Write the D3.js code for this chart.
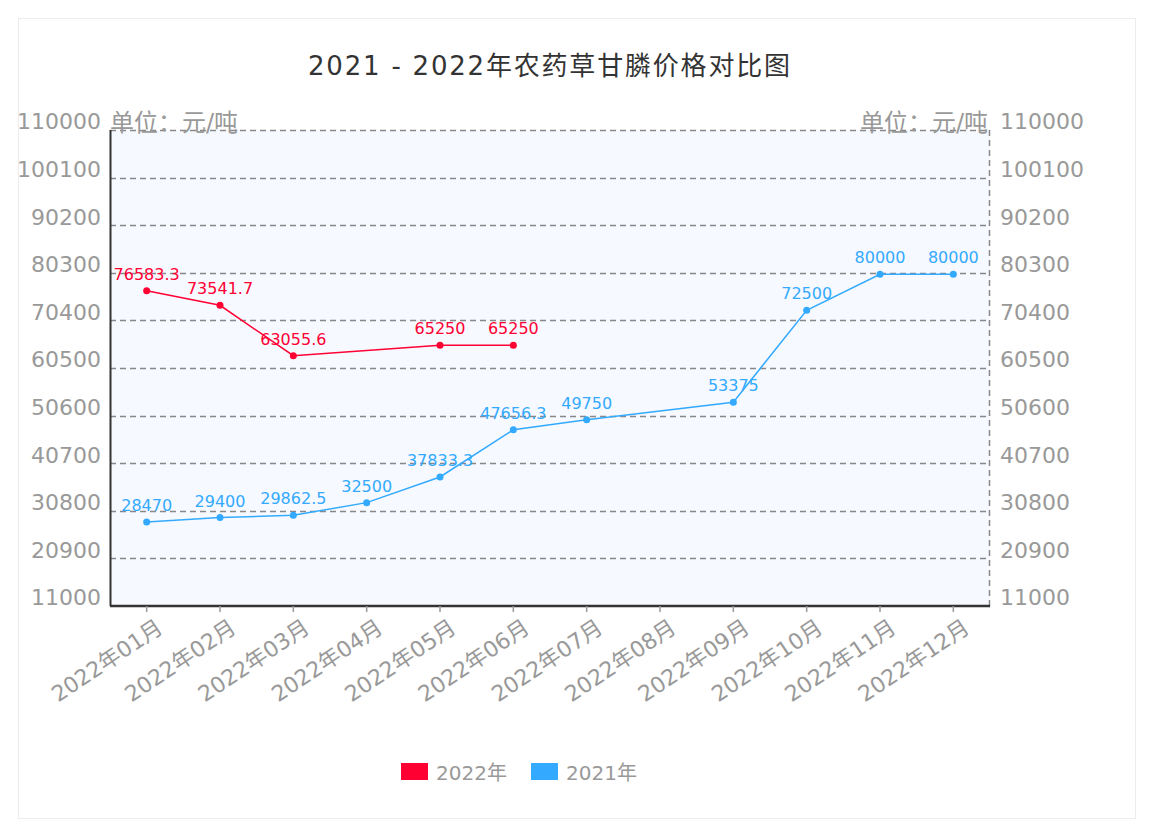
<!DOCTYPE html>
<html><head><meta charset="utf-8">
<script src="https://cdn.jsdelivr.net/npm/d3@7"></script>
<style>
body{margin:0;background:#fff;}
text{font-family:"DejaVu Sans","Noto Sans CJK SC",sans-serif;}
</style></head>
<body><svg id="c" width="1152" height="827"></svg>
<script>
const categories = ["2022年01月","2022年02月","2022年03月","2022年04月","2022年05月","2022年06月","2022年07月","2022年08月","2022年09月","2022年10月","2022年11月","2022年12月"];
const series2022 = [76583.3, 73541.7, 63055.6, null, 65250, 65250, null, null, null, null, null, null];
const series2021 = [28470, 29400, 29862.5, 32500, 37833.3, 47656.3, 49750, null, 53375, 72500, 80000, 80000];
const yTicks = [11000, 20900, 30800, 40700, 50600, 60500, 70400, 80300, 90200, 100100, 110000];
const seriesNames = ["2022年", "2021年"];
const colors = ["#ff0033", "#33aaff"];

const svg = d3.select("#c");
const L = 110, R = 990, T = 130, B = 606;

// outer panel
svg.append("rect").attr("x",18.5).attr("y",18.5).attr("width",1117).attr("height",800)
  .attr("fill","#fff").attr("stroke","#ececec");

const x = d3.scaleBand().domain(categories).range([L,R]);
const y = d3.scaleLinear().domain([11000,110000]).range([B,T]);

svg.append("rect").attr("x",L).attr("y",T).attr("width",R-L).attr("height",B-T).attr("fill","#f6f9ff");

// grid
svg.append("g").selectAll("line").data(yTicks.slice(1)).join("line")
  .attr("x1",L).attr("x2",R).attr("y1",d=>Math.round(y(d))+0.5).attr("y2",d=>Math.round(y(d))+0.5)
  .attr("stroke","#888").attr("stroke-width",1.5).attr("stroke-dasharray","6,4");
// right dashed border
svg.append("line").attr("x1",R-0.5).attr("x2",R-0.5).attr("y1",T).attr("y2",B)
  .attr("stroke","#888").attr("stroke-width",1.5).attr("stroke-dasharray","6,4");
// left axis line
svg.append("line").attr("x1",L+0.5).attr("x2",L+0.5).attr("y1",T).attr("y2",B)
  .attr("stroke","#333").attr("stroke-width",2);

// y axes
const yl = svg.append("g").attr("transform",`translate(${L},0)`)
  .call(d3.axisLeft(y).tickValues(yTicks).tickSize(0).tickPadding(9).tickFormat(d=>d));
yl.select(".domain").remove();
yl.selectAll("text").attr("fill","#999").attr("font-size",22).attr("dy","-0.05em");
const yr = svg.append("g").attr("transform",`translate(${R},0)`)
  .call(d3.axisRight(y).tickValues(yTicks).tickSize(0).tickPadding(10).tickFormat(d=>d));
yr.select(".domain").remove();
yr.selectAll("text").attr("fill","#999").attr("font-size",22).attr("dy","-0.05em");

// x axis
const xa = svg.append("g").attr("transform",`translate(0,${B})`)
  .call(d3.axisBottom(x).tickSize(6).tickPadding(4));
xa.select(".domain").attr("stroke","#333").attr("stroke-width",2.5).attr("d",`M${L},0H${R}`);
xa.selectAll(".tick line").attr("stroke","#999").attr("stroke-width",1.5);
xa.selectAll("text").attr("fill","#999").attr("font-size",22)
  .attr("text-anchor","end").attr("dy","0").attr("dx","0")
  .attr("transform","translate(12,17) rotate(-34)");

// unit labels
svg.append("text").attr("x",L).attr("y",T+1).attr("font-size",24).attr("fill","#999").text("单位：元/吨");
svg.append("text").attr("x",R-2).attr("y",T+1).attr("text-anchor","end").attr("font-size",24).attr("fill","#999").text("单位：元/吨");

// title
svg.append("text").attr("x",549).attr("y",75).attr("text-anchor","middle").attr("font-size",26).attr("fill","#333")
  .attr("textLength",482).attr("lengthAdjust","spacing")
  .text("2021 - 2022年农药草甘膦价格对比图");

const cx = d => x(d) + x.bandwidth()/2;
[series2022, series2021].forEach((s,i)=>{
  const pts = s.map((v,j)=>({c:categories[j],v})).filter(p=>p.v!=null);
  svg.append("path").datum(pts)
    .attr("d", d3.line().x(p=>cx(p.c)).y(p=>y(p.v)))
    .attr("fill","none").attr("stroke",colors[i]).attr("stroke-width",1.5);
  svg.append("g").selectAll("circle").data(pts).join("circle")
    .attr("cx",p=>cx(p.c)).attr("cy",p=>y(p.v)).attr("r",3.5).attr("fill",colors[i]);
  svg.append("g").selectAll("text").data(pts).join("text")
    .attr("x",p=>cx(p.c)).attr("y",p=>y(p.v)-11).attr("text-anchor","middle")
    .attr("font-size",16).attr("fill",colors[i]).text(p=>p.v);
});

// legend
const lg = svg.append("g");
const lx = [401, 531];
seriesNames.forEach((n,i)=>{
  lg.append("rect").attr("x",lx[i]).attr("y",763).attr("width",27).attr("height",17).attr("fill",colors[i]);
  lg.append("text").attr("x",lx[i]+35).attr("y",780).attr("font-size",20).attr("fill","#999").text(n);
});
</script></body></html>
